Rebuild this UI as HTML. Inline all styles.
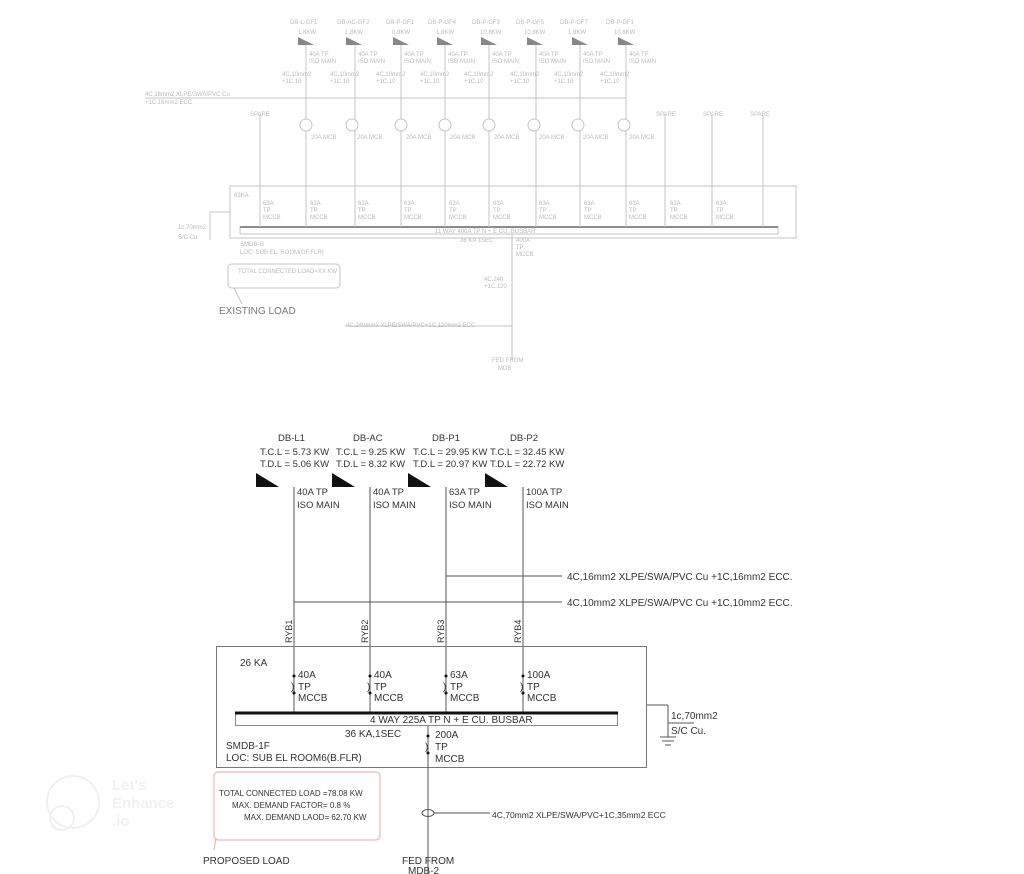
<!DOCTYPE html>
<html><head><meta charset="utf-8"><style>
html,body{margin:0;padding:0;background:#fff;}
svg{display:block;font-family:"Liberation Sans",sans-serif;}
.f{fill:#bbb;font-size:6px;}
.t{fill:#333;font-size:10px;}
.s{fill:#333;font-size:9px;}
</style></head><body>
<svg width="1024" height="874" viewBox="0 0 1024 874" xmlns="http://www.w3.org/2000/svg">
<!-- ===== TOP (existing, faint) ===== -->
<g stroke="#c4c4c4" stroke-width="1" fill="none">
  <line x1="145" y1="98" x2="626" y2="98"/>
  <rect x="230" y="186" width="566" height="52"/>
  <rect x="240" y="227" width="538" height="7"/>
  <line x1="230" y1="212" x2="210" y2="212"/><line x1="210" y1="212" x2="210" y2="240"/>
  <line x1="512" y1="234" x2="512" y2="360"/>
  <line x1="345" y1="326" x2="512" y2="326"/>
  <path d="M232 264 h104 a4 4 0 0 1 4 4 v16 a4 4 0 0 1 -4 4 h-104 a4 4 0 0 1 -4 -4 v-16 a4 4 0 0 1 4 -4z"/>
  <line x1="234" y1="288" x2="242" y2="304"/>
</g>
<line x1="240" y1="227" x2="778" y2="227" stroke="#666" stroke-width="1.5"/>
<g stroke="#c4c4c4" stroke-width="1" fill="none" id="topfeeders">
  <line x1="306" y1="45" x2="306" y2="227"/><circle cx="306" cy="125" r="6" fill="#fff"/>
  <line x1="355" y1="45" x2="355" y2="227"/><circle cx="352" cy="125" r="6" fill="#fff"/>
  <line x1="401" y1="45" x2="401" y2="227"/><circle cx="401" cy="125" r="6" fill="#fff"/>
  <line x1="445" y1="45" x2="445" y2="227"/><circle cx="445" cy="125" r="6" fill="#fff"/>
  <line x1="489" y1="45" x2="489" y2="227"/><circle cx="489" cy="125" r="6" fill="#fff"/>
  <line x1="536" y1="45" x2="536" y2="227"/><circle cx="534" cy="125" r="6" fill="#fff"/>
  <line x1="580" y1="45" x2="580" y2="227"/><circle cx="578" cy="125" r="6" fill="#fff"/>
  <line x1="626" y1="45" x2="626" y2="227"/><circle cx="624" cy="125" r="6" fill="#fff"/>
  <line x1="260" y1="115" x2="260" y2="227"/>
  <line x1="665" y1="115" x2="665" y2="227"/>
  <line x1="712" y1="115" x2="712" y2="227"/>
  <line x1="763" y1="115" x2="763" y2="227"/>
</g>
<g fill="#888">
  <polygon points="298,37 314,45 298,45"/><polygon points="346,37 362,45 346,45"/>
  <polygon points="393,37 409,45 393,45"/><polygon points="437,37 453,45 437,45"/>
  <polygon points="481,37 497,45 481,45"/><polygon points="527,37 543,45 527,45"/>
  <polygon points="572,37 588,45 572,45"/><polygon points="618,37 634,45 618,45"/>
</g>
<g class="f">
  <text x="290" y="24">DB-L-GF1</text><text x="337" y="24">DB-AC-GF2</text><text x="386" y="24">DB-P-GF1</text><text x="428" y="24">DB-P-GF4</text><text x="472" y="24">DB-P-GF3</text><text x="516" y="24">DB-P-GF5</text><text x="560" y="24">DB-P-GF7</text><text x="606" y="24">DB-P-GF1</text>
  <text x="298" y="34">1.8KW</text><text x="345" y="34">1.8KW</text><text x="392" y="34">0.8KW</text><text x="436" y="34">1.8KW</text><text x="480" y="34">10.8KW</text><text x="524" y="34">10.8KW</text><text x="568" y="34">1.8KW</text><text x="614" y="34">10.8KW</text>
</g>
<g class="f">
  <text x="309" y="56">40A TP</text><text x="309" y="63">ISO MAIN</text>
  <text x="358" y="56">40A TP</text><text x="358" y="63">ISO MAIN</text>
  <text x="404" y="56">40A TP</text><text x="404" y="63">ISO MAIN</text>
  <text x="448" y="56">40A TP</text><text x="448" y="63">ISO MAIN</text>
  <text x="492" y="56">40A TP</text><text x="492" y="63">ISO MAIN</text>
  <text x="539" y="56">40A TP</text><text x="539" y="63">ISO MAIN</text>
  <text x="583" y="56">40A TP</text><text x="583" y="63">ISO MAIN</text>
  <text x="629" y="56">40A TP</text><text x="629" y="63">ISO MAIN</text>
  <text x="282" y="76">4C,10mm2</text><text x="282" y="83">+1C,10</text>
  <text x="330" y="76">4C,10mm2</text><text x="330" y="83">+1C,10</text>
  <text x="376" y="76">4C,10mm2</text><text x="376" y="83">+1C,10</text>
  <text x="420" y="76">4C,10mm2</text><text x="420" y="83">+1C,10</text>
  <text x="464" y="76">4C,10mm2</text><text x="464" y="83">+1C,10</text>
  <text x="510" y="76">4C,10mm2</text><text x="510" y="83">+1C,10</text>
  <text x="554" y="76">4C,10mm2</text><text x="554" y="83">+1C,10</text>
  <text x="600" y="76">4C,10mm2</text><text x="600" y="83">+1C,10</text>
  <text x="145" y="96">4C,16mm2 XLPE/SWA/PVC Cu</text><text x="145" y="104">+1C,16mm2 ECC</text>
  <text x="250" y="116">SPARE</text><text x="656" y="116">SPARE</text><text x="703" y="116">SPARE</text><text x="750" y="116">SPARE</text>
  <text x="311" y="139">20A MCB</text><text x="357" y="139">20A MCB</text><text x="406" y="139">20A MCB</text><text x="450" y="139">20A MCB</text><text x="494" y="139">20A MCB</text><text x="539" y="139">20A MCB</text><text x="583" y="139">20A MCB</text><text x="629" y="139">20A MCB</text>
  <text x="234" y="197">63KA</text>
  <text x="263" y="205">63A</text><text x="263" y="212">TP</text><text x="263" y="219">MCCB</text>
  <text x="310" y="205">63A</text><text x="310" y="212">TP</text><text x="310" y="219">MCCB</text>
  <text x="358" y="205">63A</text><text x="358" y="212">TP</text><text x="358" y="219">MCCB</text>
  <text x="404" y="205">63A</text><text x="404" y="212">TP</text><text x="404" y="219">MCCB</text>
  <text x="449" y="205">63A</text><text x="449" y="212">TP</text><text x="449" y="219">MCCB</text>
  <text x="493" y="205">63A</text><text x="493" y="212">TP</text><text x="493" y="219">MCCB</text>
  <text x="539" y="205">63A</text><text x="539" y="212">TP</text><text x="539" y="219">MCCB</text>
  <text x="584" y="205">63A</text><text x="584" y="212">TP</text><text x="584" y="219">MCCB</text>
  <text x="629" y="205">63A</text><text x="629" y="212">TP</text><text x="629" y="219">MCCB</text>
  <text x="670" y="205">63A</text><text x="670" y="212">TP</text><text x="670" y="219">MCCB</text>
  <text x="716" y="205">63A</text><text x="716" y="212">TP</text><text x="716" y="219">MCCB</text>
  <text x="435" y="233">11 WAY 400A TP N + E CU. BUSBAR</text>
  <text x="460" y="242">36 KA 1SEC</text><text x="516" y="242">400A</text><text x="516" y="249">TP</text><text x="516" y="256">MCCB</text>
  <text x="240" y="246">SMDB-G</text><text x="240" y="254">LOC: SUB EL. ROOM(GF.FLR)</text>
  <text x="178" y="229">1c,70mm2</text><text x="178" y="239">S/C Cu</text>
  <text x="238" y="273">TOTAL CONNECTED LOAD=XX KW</text>
  <text x="484" y="281">4C,240</text><text x="484" y="288">+1C,120</text>
  <text x="346" y="327">4C,240mm2 XLPE/SWA/PVC+1C,120mm2 ECC</text>
  <text x="492" y="362">FED FROM</text><text x="498" y="370">MDB</text>
</g>
<text x="219" y="314" fill="#777" font-size="10">EXISTING LOAD</text>

<!-- ===== BOTTOM (proposed) ===== -->
<g stroke="#555" stroke-width="1" fill="none">
  <line x1="294" y1="487" x2="294" y2="712"/>
  <line x1="370" y1="487" x2="370" y2="712"/>
  <line x1="446" y1="487" x2="446" y2="712"/>
  <line x1="523" y1="487" x2="523" y2="712"/>
  <line x1="446" y1="576" x2="562" y2="576"/>
  <line x1="294" y1="602" x2="562" y2="602"/>
  <rect x="216.5" y="646.5" width="430" height="121" stroke="#777"/>
  <rect x="235.5" y="713.5" width="382" height="12" stroke="#888"/>
  <line x1="428" y1="726" x2="428" y2="874"/>
  <ellipse cx="428" cy="813" rx="6" ry="3.5"/>
  <line x1="434" y1="813" x2="490" y2="813"/>
  <line x1="647" y1="705" x2="668" y2="705"/><line x1="668" y1="705" x2="668" y2="737"/>
  <line x1="660" y1="737" x2="676" y2="737"/><line x1="662" y1="741" x2="674" y2="741"/><line x1="665" y1="745" x2="671" y2="745"/>
  <line x1="668" y1="723" x2="694" y2="723"/>
</g>
<line x1="235" y1="713" x2="618" y2="713" stroke="#111" stroke-width="3"/>
<g fill="#111">
  <polygon points="256,473 279,487 256,487"/><polygon points="332,473 355,487 332,487"/>
  <polygon points="408,473 431,487 408,487"/><polygon points="485,473 508,487 485,487"/>
  <circle cx="294" cy="676" r="1.5"/><circle cx="294" cy="693" r="1.5"/>
  <circle cx="370" cy="676" r="1.5"/><circle cx="370" cy="693" r="1.5"/>
  <circle cx="446" cy="676" r="1.5"/><circle cx="446" cy="693" r="1.5"/>
  <circle cx="523" cy="676" r="1.5"/><circle cx="523" cy="693" r="1.5"/>
  <circle cx="428" cy="736" r="1.5"/><circle cx="428" cy="753" r="1.5"/>
</g>
<g class="t" style="font-size:9.5px">
  <text x="278" y="441">DB-L1</text><text x="353" y="441">DB-AC</text><text x="432" y="441">DB-P1</text><text x="510" y="441">DB-P2</text>
  <text x="260" y="455">T.C.L = 5.73 KW</text><text x="336" y="455">T.C.L = 9.25 KW</text><text x="413" y="455">T.C.L = 29.95 KW</text><text x="490" y="455">T.C.L = 32.45 KW</text>
  <text x="260" y="467">T.D.L = 5.06 KW</text><text x="336" y="467">T.D.L = 8.32 KW</text><text x="413" y="467">T.D.L = 20.97 KW</text><text x="490" y="467">T.D.L = 22.72 KW</text>
  <text x="297" y="495">40A TP</text><text x="297" y="508">ISO MAIN</text>
  <text x="373" y="495">40A TP</text><text x="373" y="508">ISO MAIN</text>
  <text x="449" y="495">63A TP</text><text x="449" y="508">ISO MAIN</text>
  <text x="526" y="495">100A TP</text><text x="526" y="508">ISO MAIN</text>
</g>
<g class="t">
  <text x="567" y="580">4C,16mm2 XLPE/SWA/PVC Cu   +1C,16mm2 ECC.</text>
  <text x="567" y="606">4C,10mm2 XLPE/SWA/PVC Cu   +1C,10mm2 ECC.</text>
  <text x="240" y="666">26 KA</text>
  <text x="298" y="678">40A</text><text x="291" y="690">)</text><text x="298" y="690">TP</text><text x="298" y="701">MCCB</text>
  <text x="374" y="678">40A</text><text x="367" y="690">)</text><text x="374" y="690">TP</text><text x="374" y="701">MCCB</text>
  <text x="450" y="678">63A</text><text x="443" y="690">)</text><text x="450" y="690">TP</text><text x="450" y="701">MCCB</text>
  <text x="527" y="678">100A</text><text x="520" y="690">)</text><text x="527" y="690">TP</text><text x="527" y="701">MCCB</text>
  <text x="370" y="723">4 WAY 225A TP N + E CU. BUSBAR</text>
  <text x="345" y="737">36 KA,1SEC</text>
  <text x="435" y="738">200A</text><text x="425" y="750">)</text><text x="435" y="750">TP</text><text x="435" y="762">MCCB</text>
  <text x="226" y="749">SMDB-1F</text><text x="226" y="761">LOC: SUB EL ROOM6(B.FLR)</text>
  <text x="671" y="719">1c,70mm2</text><text x="671" y="734">S/C Cu.</text>
  <text x="203" y="864">PROPOSED LOAD</text>
  <text x="402" y="864">FED FROM</text><text x="408" y="874">MDB-2</text>
</g>
<text x="492" y="818" class="s" style="font-size:8.5px">4C,70mm2 XLPE/SWA/PVC+1C,35mm2 ECC</text>
<path d="M218 772 h158 a4 4 0 0 1 4 4 v60 a4 4 0 0 1 -4 4 h-158 a4 4 0 0 1 -4 -4 v-60 a4 4 0 0 1 4 -4z" fill="none" stroke="#e7a8a8" stroke-width="1"/>
<line x1="216" y1="838" x2="214" y2="850" stroke="#e7a8a8"/>
<g class="s" style="font-size:8px">
  <text x="219" y="796">TOTAL CONNECTED LOAD =78.08 KW</text>
  <text x="232" y="808">MAX. DEMAND FACTOR= 0.8 %</text>
  <text x="244" y="820">MAX. DEMAND LAOD= 62.70 KW</text>
</g>
<g transform="rotate(-90)" class="t" style="font-size:9px">
  <text x="-643" y="292">RYB1</text><text x="-643" y="368">RYB2</text><text x="-643" y="444">RYB3</text><text x="-643" y="521">RYB4</text>
</g>
<!-- watermark -->
<g stroke="#f0f0f0" stroke-width="2" fill="none"><circle cx="73" cy="802" r="26"/><circle cx="62" cy="818" r="12"/></g>
<g fill="#f1f1f1" font-size="15" font-weight="bold"><text x="112" y="790">Let's</text><text x="112" y="808">Enhance</text><text x="112" y="826">.io</text></g>
</svg>
</body></html>
